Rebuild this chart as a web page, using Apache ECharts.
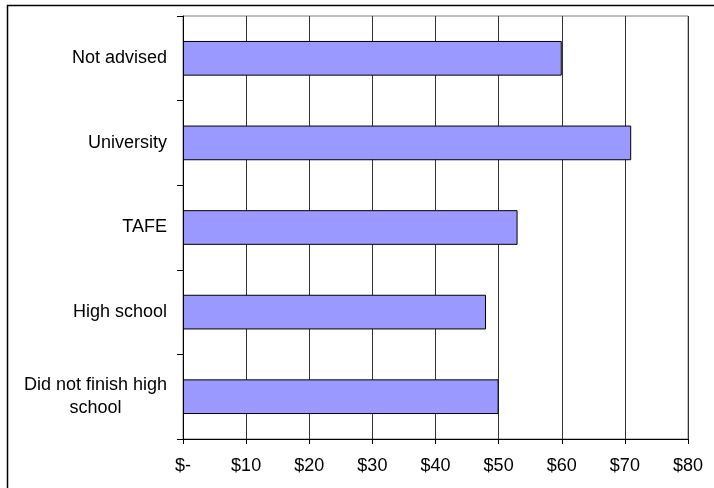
<!DOCTYPE html>
<html>
<head>
<meta charset="utf-8">
<script src="https://cdn.jsdelivr.net/npm/echarts@6/dist/echarts.min.js"></script>
<style>
html,body{margin:0;padding:0;background:#fff;}
#chart{width:714px;height:488px;}
</style>
</head>
<body>
<div id="chart"></div>
<script>
const categories = ['Not advised', 'University', 'TAFE', 'High school', 'Did not finish high school'];
const values = [60, 71, 53, 48, 50];
const xTicks = { min: 0, max: 80, interval: 10 };

const chart = echarts.init(document.getElementById('chart'), null, { renderer: 'canvas' });
const FONT = 'Liberation Sans, Arial, sans-serif';

chart.setOption({
  animation: false,
  backgroundColor: '#fff',
  graphic: [{
    type: 'rect',
    shape: { x: 7.5, y: 5.5, width: 800, height: 600 },
    style: { fill: 'none', stroke: '#000', lineWidth: 1.5 },
    silent: true
  }],
  grid: {
    left: 183, right: 26, top: 16, bottom: 49,
    show: true, borderColor: '#808080', borderWidth: 1, backgroundColor: 'transparent'
  },
  xAxis: {
    type: 'value',
    min: xTicks.min, max: xTicks.max, interval: xTicks.interval,
    axisLine: { show: true, lineStyle: { color: '#000', width: 1 } },
    axisTick: { show: true, length: 5, lineStyle: { color: '#000' } },
    splitLine: { show: true, lineStyle: { color: '#333', width: 1 } },
    axisLabel: {
      margin: 18,
      color: '#000',
      fontFamily: FONT,
      fontSize: 18,
      formatter: v => v === 0 ? '$-' : '$' + v
    }
  },
  yAxis: {
    type: 'category',
    data: categories,
    inverse: true,
    axisLine: { show: true, lineStyle: { color: '#000', width: 1 } },
    axisTick: { show: true, length: 6, lineStyle: { color: '#000' } },
    splitLine: { show: false },
    axisLabel: {
      margin: 16,
      color: '#000',
      fontFamily: FONT,
      fontSize: 18,
      lineHeight: 23,
      formatter: function (v) {
        if (v === 'Did not finish high school') {
          return '{c|Did not finish high}\n{c|school}';
        }
        return v;
      },
      rich: {
        c: { align: 'center', fontFamily: FONT, fontSize: 18, lineHeight: 23, color: '#000' }
      }
    }
  },
  series: [{
    type: 'bar',
    data: values,
    barCategoryGap: '59%',
    itemStyle: { color: '#9999FF', borderColor: '#000', borderWidth: 1 }
  }]
});
</script>
</body>
</html>
